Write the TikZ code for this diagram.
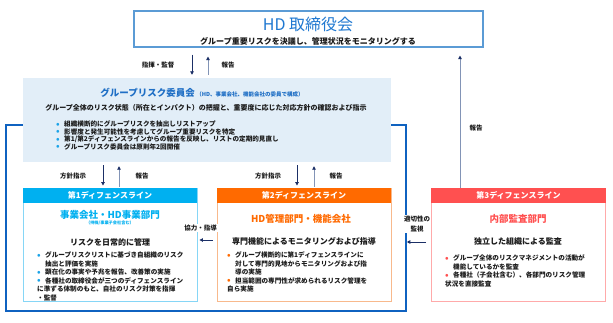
\documentclass[tikz,border=0pt]{standalone}
\usepackage{fontspec}
\setmainfont{Noto Sans CJK JP}
\usetikzlibrary{arrows.meta}
\definecolor{HDBlue}{HTML}{1F78D1}
\definecolor{HDFrame}{HTML}{5B9BD5}
\definecolor{ComFill}{HTML}{E2EEF8}
\definecolor{ComBlue}{HTML}{1F6FC5}
\definecolor{DotBlue}{HTML}{1AA3E8}
\definecolor{FrameBlue}{HTML}{0F62C0}
\definecolor{ArrowNavy}{HTML}{1B2F66}
\definecolor{ArrowSlate}{HTML}{8294B6}
\definecolor{L1Head}{HTML}{00B0F0}
\definecolor{L1Frame}{HTML}{86D6F6}
\definecolor{L2Head}{HTML}{FF6A00}
\definecolor{L2Frame}{HTML}{F8B98C}
\definecolor{L3Head}{HTML}{FF5050}
\definecolor{L3Frame}{HTML}{FFAAAA}
\definecolor{TextBlack}{HTML}{1A1A1A}
\newcommand{\jpsize}[2]{\fontsize{#1}{#2}\selectfont}
\newcommand{\bul}[2]{\par\hangindent=8pt\hangafter=1\noindent\makebox[8pt][l]{\textcolor{#1}{\jpsize{9}{9}\raisebox{-0.4pt}{•}}}#2}
\tikzset{
    % Box styles
    hdbox/.style={
        rectangle,
        draw=HDFrame,
        line width=1.1pt,
        fill=white,
        minimum width=349pt,
        minimum height=36pt,
        inner sep=0pt
    },
    combox/.style={
        rectangle,
        fill=ComFill,
        minimum width=368pt,
        minimum height=84pt,
        inner sep=0pt
    },
    linebox/.style={
        rectangle,
        fill=white,
        line width=0.9pt,
        minimum width=174pt,
        minimum height=113pt,
        inner sep=0pt
    },
    headbar/.style={
        rectangle,
        anchor=north,
        minimum width=174pt,
        minimum height=15pt,
        inner sep=0pt,
        text=white,
        font=\jpsize{8}{8}\bfseries
    },
    % Text styles
    lbl/.style={
        font=\jpsize{6.5}{8}\bfseries,
        text=TextBlack,
        inner sep=1pt
    },
    lead/.style={
        font=\jpsize{8}{10}\bfseries,
        text=TextBlack,
        inner sep=0pt
    },
    unitname/.style={
        font=\jpsize{9.5}{11}\bfseries,
        inner sep=0pt
    },
    bulletlist/.style={
        anchor=north west,
        inner sep=0pt,
        text width=#1,
        align=left,
        font=\jpsize{6.6}{8.5}\bfseries,
        text=TextBlack
    },
    % Arrow styles
    downarrow/.style={
        -{Triangle[length=3.5pt,width=3.5pt]},
        line width=0.9pt,
        ArrowNavy
    },
    uparrow/.style={
        -{Triangle[length=3.5pt,width=3.5pt,color=ArrowNavy]},
        line width=0.9pt,
        ArrowSlate
    },
    frameline/.style={
        draw=FrameBlue,
        line width=1.6pt
    }
}
\begin{document}
\begin{tikzpicture}[x=1pt, y=-1pt]
    \useasboundingbox (0,0) rectangle (613,322);

    % Frame round the first and second lines
    \coordinate (frTL) at (6,125);
    \coordinate (frBL) at (6,311);
    \coordinate (frBR) at (406,311);
    \coordinate (frTR) at (406,125);
    \draw[frameline] (frTL -| 23,0) -- (frTL) -- (frBL) -- (frBR) -- (frTR) -- (frTR -| 391,0);

    % HD board
    \node[hdbox] (hd) at (308.5,29) {};
    \node[font=\jpsize{16}{16}, text=HDBlue, inner sep=0pt] (hdtitle) at (308,24) {HD 取締役会};
    \node[font=\jpsize{8}{8}\bfseries, text=TextBlack, inner sep=0pt] (hdsub) at (308,41) {グループ重要リスクを決議し、管理状況をモニタリングする};

    % Group risk committee
    \node[combox] (com) at (207,120) {};
    \node[text=ComBlue, inner sep=0pt, font=\jpsize{9.5}{10}\bfseries] (comtitle) at (202,93) {グループリスク委員会\,{\jpsize{5.5}{6}（HD、事業会社、機能会社の委員で構成）}};
    \node[lead, font=\jpsize{7}{8}\bfseries] (comlead) at (206,108) {グループ全体のリスク状態（所在とインパクト）の把握と、重要度に応じた対応方針の確認および指示};
    \node[bulletlist=320pt, font=\jpsize{6.6}{7.5}\bfseries] (comlist) at (56,119) {
        \bul{DotBlue}{組織横断的にグループリスクを抽出しリストアップ}
        \bul{DotBlue}{影響度と発生可能性を考慮してグループ重要リスクを特定}
        \bul{DotBlue}{第1/第2ディフェンスラインからの報告を反映し、リストの定期的見直し}
        \bul{DotBlue}{グループリスク委員会は原則年2回開催}};

    % First line
    \node[linebox, draw=L1Frame] (l1) at (110,244.5) {};
    \node[headbar, fill=L1Head] (l1head) at (l1.north) {第1ディフェンスライン};
    \node[unitname, text=L1Head] (l1name) at (110,215) {事業会社・HD事業部門};
    \node[font=\jpsize{4.2}{5}\bfseries, text=L1Head, inner sep=0pt] (l1note) at (110,223.5) {（持株/事業子会社含む）};
    \node[lead] (l1lead) at (110,242) {リスクを日常的に管理};
    \node[bulletlist=158pt] (l1list) at (37,249) {
        \bul{DotBlue}{グループリスクリストに基づき自組織のリスク\newline 抽出と評価を実施}
        \bul{DotBlue}{顕在化の事実や予兆を報告、改善策の実施}
        \bul{DotBlue}{各種社の取締役会が三つのディフェンスライン\newline に準ずる体制のもと、自社のリスク対策を指揮\newline ・監督}};

    % Second line
    \node[linebox, draw=L2Frame] (l2) at (304,244.5) {};
    \node[headbar, fill=L2Head] (l2head) at (l2.north) {第2ディフェンスライン};
    \node[unitname, text=L2Head] (l2name) at (301,219) {HD管理部門・機能会社};
    \node[lead] (l2lead) at (304,241) {専門機能によるモニタリングおよび指導};
    \node[bulletlist=158pt] (l2list) at (227,249) {
        \bul{L2Head}{グループ横断的に第1ディフェンスラインに\newline 対して専門的見地からモニタリングおよび指\newline 導の実施}
        \bul{L2Head}{担当範囲の専門性が求められるリスク管理を\newline 自ら実施}};

    % Third line
    \node[linebox, draw=L3Frame] (l3) at (518.5,244.5) {};
    \node[headbar, fill=L3Head, minimum width=175pt] (l3head) at (l3.north) {第3ディフェンスライン};
    \node[unitname, text=L3Head] (l3name) at (518,219) {内部監査部門};
    \node[lead] (l3lead) at (518,241) {独立した組織による監査};
    \node[bulletlist=158pt] (l3list) at (445,252) {
        \bul{L3Head}{グループ全体のリスクマネジメントの活動が\newline 機能しているかを監査}
        \bul{L3Head}{各種社（子会社含む）、各部門のリスク管理\newline 状況を直接監査}};

    % Arrows between board and committee
    \coordinate (xa) at (192,0);
    \coordinate (xb) at (208,0);
    \draw[downarrow, shorten <=7pt, shorten >=3pt] (hd.south -| xa) -- (com.north -| xa);
    \draw[uparrow, shorten <=3pt, shorten >=9pt] (com.north -| xb) -- (hd.south -| xb);
    \node[lbl] (cmdlbl) at (158,65) {指揮・監督};
    \node[lbl] (replbl) at (228,65) {報告};

    % Arrows between committee and lines
    \coordinate (xc) at (103,0);
    \coordinate (xd) at (119,0);
    \coordinate (xe) at (297,0);
    \coordinate (xf) at (314,0);
    \draw[downarrow, shorten <=3pt, shorten >=2pt] (com.south -| xc) -- (l1.north -| xc);
    \draw[uparrow, shorten <=1pt, shorten >=4pt] (l1.north -| xd) -- (com.south -| xd);
    \draw[downarrow, shorten <=3pt, shorten >=2pt] (com.south -| xe) -- (l2.north -| xe);
    \draw[uparrow, shorten <=1pt, shorten >=4pt] (l2.north -| xf) -- (com.south -| xf);
    \node[lbl] (pol1lbl) at (73,176) {方針指示};
    \node[lbl] (rep1lbl) at (142,176) {報告};
    \node[lbl] (pol2lbl) at (268,176) {方針指示};
    \node[lbl] (rep2lbl) at (336,176) {報告};

    % Third line reports to board
    \coordinate (xg) at (460,0);
    \draw[uparrow, shorten >=8pt] (l3.north -| xg) -- (hd.south -| xg);
    \node[lbl] (rep3lbl) at (476,128) {報告};

    % Side arrows
    \coordinate (ya) at (0,240);
    \coordinate (yb) at (0,242);
    \draw[downarrow, shorten <=4pt, shorten >=2pt] (l2.west |- ya) -- (l1.east |- ya);
    \node[lbl, fill=white] (coplbl) at (200.5,228) {協力・指導};
    \draw[downarrow, shorten <=5pt, shorten >=0.8pt] (l3.west |- yb) -- (frBR |- yb);
    \node[lbl, fill=white, align=center, font=\jpsize{6.5}{10}\bfseries] (monlbl) at (417,224) {適切性の\\監視};
\end{tikzpicture}
\end{document}
